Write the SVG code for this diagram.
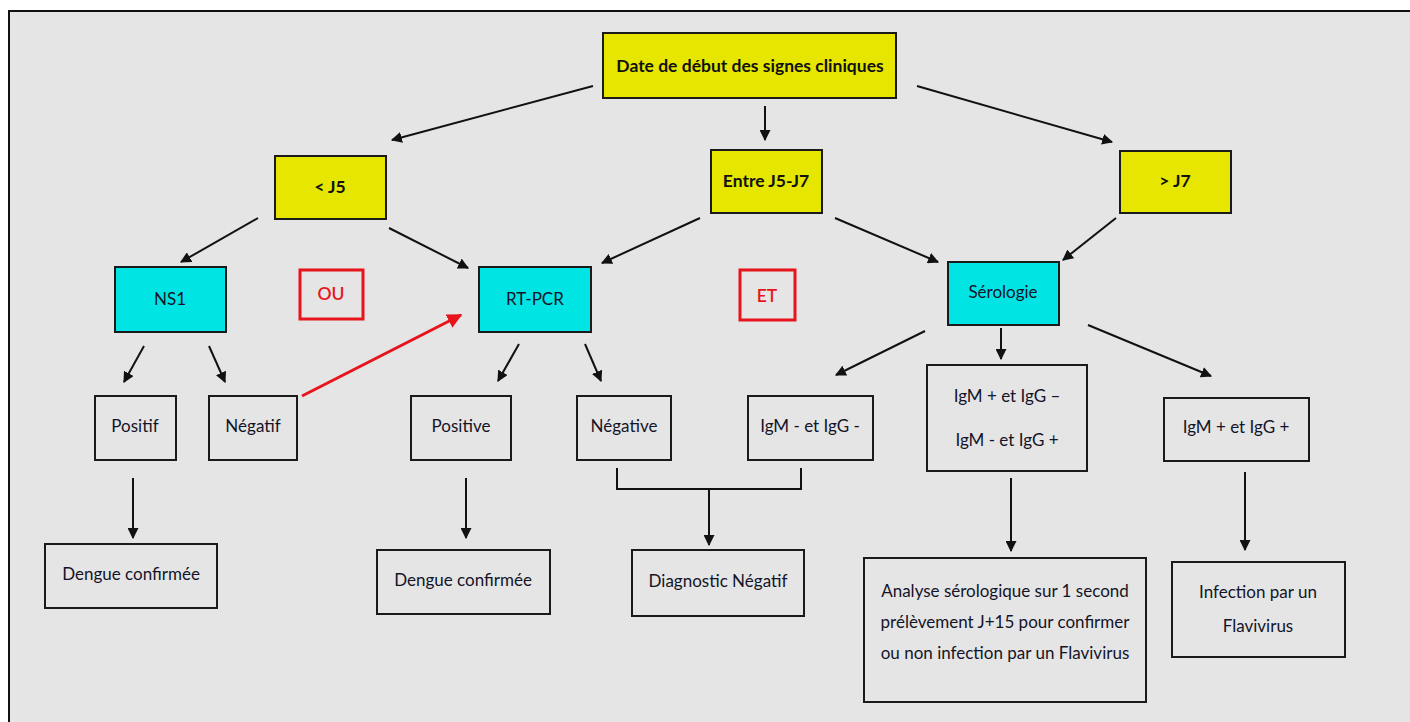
<svg xmlns="http://www.w3.org/2000/svg" width="1410" height="722" viewBox="0 0 1410 722">
<defs>
<marker id="ah" viewBox="0 0 10 10" refX="9" refY="5" markerWidth="5.5" markerHeight="5.5" orient="auto" markerUnits="strokeWidth">
<path d="M0,0 L10,5 L0,10 z" fill="#111"/>
</marker>
<marker id="ahr" viewBox="0 0 10 10" refX="9" refY="5" markerWidth="5" markerHeight="5" orient="auto" markerUnits="strokeWidth">
<path d="M0,0 L10,5 L0,10 z" fill="#e8141c"/>
</marker>
<style>
.y{fill:#e6e600;stroke:#1a1a1a;stroke-width:2}
.c{fill:#00e4e4;stroke:#1a1a1a;stroke-width:2}
.w{fill:#e5e5e5;stroke:#1a1a1a;stroke-width:2}
.r{fill:none;stroke:#e8141c;stroke-width:3}
text{font-family:Lato,"Liberation Sans",sans-serif;fill:#141428;text-anchor:middle;font-size:17px}
.bt{font-weight:bold;font-size:17.5px;fill:#111}
.rt{font-weight:600;font-size:17.5px;fill:#e8141c}
.cn line,.cn path{stroke:#111;stroke-width:2;fill:none}
</style>
</defs>
<rect x="0" y="0" width="1410" height="722" fill="#ffffff"/>
<rect x="9" y="11" width="1420" height="730" fill="#e5e5e5" stroke="#111" stroke-width="2"/>

<g id="connectors" class="cn">
<line x1="593" y1="86" x2="392" y2="140" marker-end="url(#ah)"/>
<line x1="765" y1="106" x2="765" y2="140" marker-end="url(#ah)"/>
<line x1="917" y1="86" x2="1112" y2="142" marker-end="url(#ah)"/>
<line x1="258" y1="218" x2="181" y2="262" marker-end="url(#ah)"/>
<line x1="389" y1="228" x2="468" y2="268" marker-end="url(#ah)"/>
<line x1="700" y1="218" x2="602" y2="263" marker-end="url(#ah)"/>
<line x1="835" y1="218" x2="938" y2="262" marker-end="url(#ah)"/>
<line x1="1116" y1="218" x2="1063" y2="260" marker-end="url(#ah)"/>
<line x1="144" y1="346" x2="124" y2="382" marker-end="url(#ah)"/>
<line x1="209" y1="346" x2="225" y2="382" marker-end="url(#ah)"/>
<line x1="302" y1="396" x2="461" y2="315" style="stroke:#e8141c;stroke-width:3" marker-end="url(#ahr)"/>
<line x1="519" y1="344" x2="498" y2="381" marker-end="url(#ah)"/>
<line x1="585" y1="344" x2="601" y2="381" marker-end="url(#ah)"/>
<line x1="925" y1="331" x2="836" y2="375" marker-end="url(#ah)"/>
<line x1="1001" y1="328" x2="1001" y2="359" marker-end="url(#ah)"/>
<line x1="1088" y1="325" x2="1211" y2="376" marker-end="url(#ah)"/>
<line x1="133" y1="478" x2="133" y2="538" marker-end="url(#ah)"/>
<line x1="466" y1="478" x2="466" y2="538" marker-end="url(#ah)"/>
<path d="M617,468 V489 H801 V468"/>
<line x1="709" y1="489" x2="709" y2="545" marker-end="url(#ah)"/>
<line x1="1011" y1="478" x2="1011" y2="551" marker-end="url(#ah)"/>
<line x1="1245" y1="472" x2="1245" y2="550" marker-end="url(#ah)"/>
</g>

<g id="n-date"><rect class="y" x="603" y="33" width="293" height="65"/><text class="bt" x="750" y="72">Date de début des signes cliniques</text></g>
<g id="n-j5"><rect class="y" x="275" y="156" width="111" height="63"/><text class="bt" x="330" y="193">&lt; J5</text></g>
<g id="n-j5j7"><rect class="y" x="711" y="150" width="111" height="63"/><text class="bt" x="766" y="187">Entre J5-J7</text></g>
<g id="n-j7"><rect class="y" x="1120" y="151" width="111" height="62"/><text class="bt" x="1175" y="187">&gt; J7</text></g>

<g id="n-ns1"><rect class="c" x="115" y="267" width="111" height="65"/><text x="170" y="305">NS1</text></g>
<g id="n-ou"><rect class="r" x="300" y="270" width="63" height="49"/><text class="rt" x="331" y="300">OU</text></g>
<g id="n-rtpcr"><rect class="c" x="479" y="267" width="112" height="65"/><text x="535" y="305">RT-PCR</text></g>
<g id="n-et"><rect class="r" x="740" y="270" width="55" height="50"/><text class="rt" x="767" y="302">ET</text></g>
<g id="n-sero"><rect class="c" x="948" y="262" width="111" height="63"/><text x="1003" y="298">Sérologie</text></g>

<g id="n-positif"><rect class="w" x="95" y="396" width="81" height="64"/><text x="135" y="432">Positif</text></g>
<g id="n-negatif"><rect class="w" x="209" y="396" width="88" height="64"/><text x="253" y="432">Négatif</text></g>
<g id="n-positive"><rect class="w" x="411" y="396" width="100" height="64"/><text x="461" y="432">Positive</text></g>
<g id="n-negative"><rect class="w" x="577" y="396" width="94" height="64"/><text x="624" y="432">Négative</text></g>
<g id="n-igmm"><rect class="w" x="748" y="396" width="125" height="64"/><text x="810" y="432">IgM - et IgG -</text></g>
<g id="n-igmpm"><rect class="w" x="927" y="365" width="160" height="106"/><text x="1007" y="402">IgM + et IgG –</text><text x="1007" y="446">IgM -  et IgG +</text></g>
<g id="n-igmpp"><rect class="w" x="1164" y="398" width="145" height="63"/><text x="1236" y="433">IgM + et IgG +</text></g>

<g id="n-dengue1"><rect class="w" x="45" y="544" width="172" height="64"/><text x="131" y="580">Dengue confirmée</text></g>
<g id="n-dengue2"><rect class="w" x="377" y="550" width="173" height="64"/><text x="463" y="586">Dengue confirmée</text></g>
<g id="n-diag"><rect class="w" x="632" y="550" width="172" height="66"/><text x="718" y="587">Diagnostic Négatif</text></g>
<g id="n-analyse"><rect class="w" x="864" y="558" width="282" height="144"/><text x="1005" y="597">Analyse sérologique sur 1 second</text><text x="1005" y="628">prélèvement J+15 pour confirmer</text><text x="1005" y="659">ou non infection par un Flavivirus</text></g>
<g id="n-infection"><rect class="w" x="1172" y="562" width="173" height="95"/><text x="1258" y="598">Infection par un</text><text x="1258" y="632">Flavivirus</text></g>
</svg>
